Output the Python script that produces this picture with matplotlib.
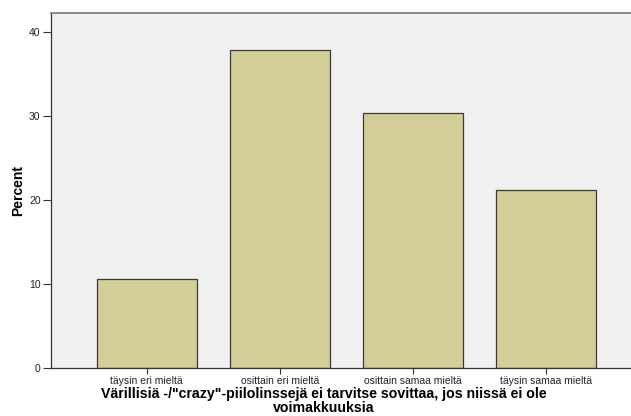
import matplotlib
matplotlib.use('Agg')
import matplotlib.pyplot as plt

categories = ['täysin eri mieltä', 'osittain eri mieltä', 'osittain samaa mieltä', 'täysin samaa mieltä']
percent = [10.6, 37.9, 30.3, 21.2]
yticks = [0, 10, 20, 30, 40]

plt.rcParams['font.family'] = ['Liberation Sans', 'DejaVu Sans']

W, H = 631, 416
fig = plt.figure(figsize=(W / 100, H / 100), dpi=100)
fig.patch.set_facecolor('white')

# axes runs past the right edge of the picture, as in the reference
left, right, top, bottom = 51, 645, 13, 368
ax = fig.add_axes([left / W, 1 - bottom / H, (right - left) / W, (bottom - top) / H])
ax.set_facecolor('#f0f0f0')

x = list(range(len(categories)))
ax.bar(x, percent, width=0.75, color='#d3ce97', edgecolor='#3a3a3a', linewidth=0.9, zorder=2)

ax.set_xlim(-0.72, 3.746)
ax.set_ylim(0, 42.26)
ax.set_xticks(x)
ax.set_xticklabels(categories, fontsize=7.5, color='#222222')
ax.set_yticks(yticks)
ax.set_yticklabels([str(v) for v in yticks], fontsize=7.5, color='#222222')
ax.tick_params(axis='x', direction='out', length=4, width=0.8, color='#333333', pad=2)
ax.tick_params(axis='y', direction='out', length=6, width=0.8, color='#333333', pad=1.5)

for s in ['left', 'bottom']:
    ax.spines[s].set_color('#333333')
    ax.spines[s].set_linewidth(0.9)
ax.spines['top'].set_color('#777777')
ax.spines['top'].set_linewidth(1.2)
ax.spines['right'].set_visible(False)

fig.text(18 / W, 1 - 191 / H, 'Percent', rotation=90, fontsize=10, fontweight='bold',
         ha='center', va='center')
fig.text(324 / W, 1 - 401 / H,
         'Värillisiä -/"crazy"-piilolinssejä ei tarvitse sovittaa, jos niissä ei ole\nvoimakkuuksia',
         fontsize=10.2, fontweight='bold', ha='center', va='center', linespacing=0.95)

fig.savefig('out.png', dpi=100)
